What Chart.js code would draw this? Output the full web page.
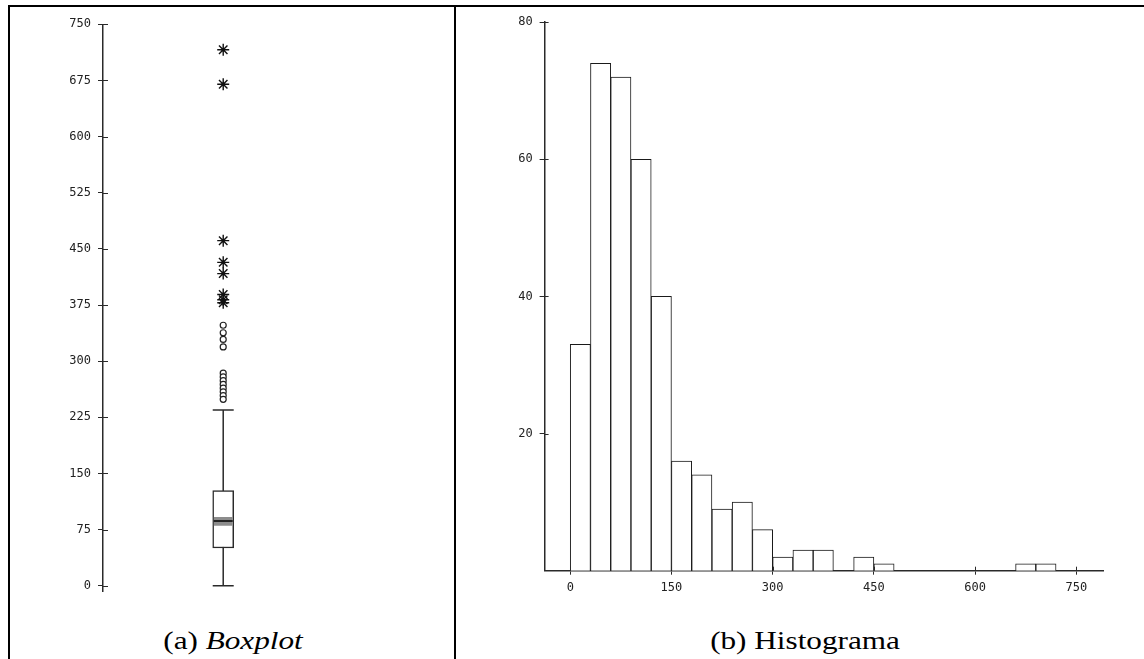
<!DOCTYPE html>
<html>
<head>
<meta charset="utf-8">
<script src="https://cdn.jsdelivr.net/npm/chart.js@4.4.1/dist/chart.umd.min.js"></script>
<style>
  html, body { margin: 0; padding: 0; background: #fff; }
  body { width: 1144px; height: 659px; position: relative; overflow: hidden; }
  .rule { position: absolute; background: #000; }
  #boxWrap { position: absolute; left: 10px; top: 8px; width: 444px; height: 600px; }
  #histWrap { position: absolute; left: 457px; top: 8px; width: 687px; height: 600px; }
  .cap {
    position: absolute; top: 626px; width: 400px; line-height: 30px;
    font-family: "Liberation Serif", "Times New Roman", serif; font-size: 26px;
    text-align: center; color: #000; transform: scaleX(1.2);
  }
</style>
</head>
<body>
<div class="rule" style="left:8px;top:5px;width:1136px;height:2px;"></div>
<div class="rule" style="left:8px;top:5px;width:2px;height:654px;"></div>
<div class="rule" style="left:454px;top:5px;width:2px;height:654px;"></div>

<div id="boxWrap"><canvas id="boxChart" width="444" height="600"></canvas></div>
<div id="histWrap"><canvas id="histChart" width="687" height="600"></canvas></div>

<div class="cap" style="left:33px;">(a) <i>Boxplot</i></div>
<div class="cap" style="left:605px;">(b) Histograma</div>

<script>
// boxplot: lower whisker, Q1, median, Q3, upper whisker
var boxFiveNum = [0, 50.4, 86.4, 127, 234.7];
var medianBand = [80.7, 91.4];
var outliersMild = [348, 338, 329, 319, 284, 279, 274, 269, 264, 259, 254, 249];
var outliersExtreme = [716, 670, 461, 432, 417, 389, 382, 378];
var boxYTicks = [0, 75, 150, 225, 300, 375, 450, 525, 600, 675, 750];

// histogram, bins of width 30
var binWidth = 30;
var binStart = [0, 30, 60, 90, 120, 150, 180, 210, 240, 270, 300, 330, 360, 390,
                420, 450, 480, 510, 540, 570, 600, 630, 660, 690];
var binCounts = [33, 74, 72, 60, 40, 16, 14, 9, 10, 6, 2, 3, 3, 0,
                 2, 1, 0, 0, 0, 0, 0, 0, 1, 1];
var histXTicks = [0, 150, 300, 450, 600, 750];
var histYTicks = [20, 40, 60, 80];

Chart.defaults.font.family = "'DejaVu Sans Mono', monospace";
Chart.defaults.font.size = 12;
Chart.defaults.color = '#222';

var ink = '#2a2a2a';

// draws the half of each tick mark that sits inside the plot area
var crossTicks = {
  id: 'crossTicks',
  afterDatasetsDraw: function (chart, args, opts) {
    var ctx = chart.ctx, area = chart.chartArea;
    ctx.save();
    ctx.strokeStyle = ink;
    ctx.lineWidth = 1;
    ctx.beginPath();
    if (opts.y) {
      chart.scales.y.ticks.forEach(function (t) {
        var py = Math.round(chart.scales.y.getPixelForValue(t.value)) + 0.5;
        ctx.moveTo(area.left, py);
        ctx.lineTo(area.left + opts.y, py);
      });
    }
    if (opts.x) {
      chart.scales.x.ticks.forEach(function (t) {
        var px = Math.round(chart.scales.x.getPixelForValue(t.value)) + 0.5;
        ctx.moveTo(px, area.bottom);
        ctx.lineTo(px, area.bottom - opts.x);
      });
    }
    ctx.stroke();
    ctx.restore();
  }
};

function fixedTicks(list) {
  return function (scale) {
    scale.ticks = list.map(function (v) { return { value: v }; });
  };
}

// ---- boxplot ----
var bx = 1;
new Chart(document.getElementById('boxChart'), {
  type: 'scatter',
  data: {
    datasets: [
      {
        type: 'line',
        data: [{ x: bx, y: boxFiveNum[0] }, { x: bx, y: boxFiveNum[4] }],
        borderColor: ink, borderWidth: 1.5, pointRadius: 0, order: 5
      },
      {
        type: 'bar', grouped: false,
        data: [{ x: bx, y: [boxFiveNum[1], boxFiveNum[3]] }],
        backgroundColor: '#fff', borderColor: ink, borderWidth: 1.5,
        borderSkipped: false, barThickness: 21, order: 4
      },
      {
        type: 'bar', grouped: false,
        data: [{ x: bx, y: medianBand }],
        backgroundColor: '#8c8c8c', borderWidth: 0, barThickness: 18, order: 3
      },
      {
        data: [{ x: bx, y: boxFiveNum[2] }],
        pointStyle: 'line', pointRadius: 9.5, borderColor: '#222', borderWidth: 2, order: 2
      },
      {
        data: [{ x: bx, y: boxFiveNum[0] }, { x: bx, y: boxFiveNum[4] }],
        pointStyle: 'line', pointRadius: 10.5, borderColor: ink, borderWidth: 1.5, order: 2
      },
      {
        data: outliersMild.map(function (v) { return { x: bx, y: v }; }),
        pointStyle: 'circle', pointRadius: 3, borderColor: '#222', borderWidth: 1.2,
        backgroundColor: '#fff', order: 1
      },
      {
        data: outliersExtreme.map(function (v) { return { x: bx, y: v }; }),
        pointStyle: 'star', pointRadius: 6, borderColor: '#111', borderWidth: 1.4, order: 1
      }
    ]
  },
  options: {
    responsive: false,
    animation: false,
    events: [],
    layout: { padding: { left: 33, right: 0, top: 16.3, bottom: 17 } },
    plugins: { legend: { display: false }, tooltip: { enabled: false }, crossTicks: { y: 5 } },
    scales: {
      x: { type: 'linear', display: false, offset: false, min: 0, max: 2.82 },
      y: {
        type: 'linear', min: -7, max: 750,
        afterBuildTicks: fixedTicks(boxYTicks),
        afterFit: function (s) { s.width = 60; },
        grid: { drawOnChartArea: false, drawTicks: true, tickLength: 5, color: ink, lineWidth: 1 },
        border: { display: true, color: ink, width: 1.5 },
        ticks: { padding: 7, color: '#222', autoSkip: false }
      }
    }
  },
  plugins: [crossTicks]
});

// ---- histogram ----
var histData = [];
binStart.forEach(function (s, i) {
  if (binCounts[i] > 0) histData.push({ x: s + binWidth / 2, y: binCounts[i] });
});

new Chart(document.getElementById('histChart'), {
  type: 'bar',
  data: {
    datasets: [{
      data: histData,
      backgroundColor: '#fff', borderColor: '#1a1a1a', borderWidth: 1,
      barPercentage: 1, categoryPercentage: 1
    }]
  },
  options: {
    responsive: false,
    animation: false,
    events: [],
    layout: { padding: { left: 37.6, right: 40.7, top: 13.7, bottom: 7.3 } },
    plugins: { legend: { display: false }, tooltip: { enabled: false }, crossTicks: { x: 4, y: 4 } },
    scales: {
      x: {
        type: 'linear', min: -38, max: 790, offset: false,
        afterBuildTicks: fixedTicks(histXTicks),
        afterFit: function (s) { s.height = 30; },
        grid: { offset: false, drawOnChartArea: false, drawTicks: true, tickLength: 4, color: ink, lineWidth: 1 },
        border: { display: true, color: ink, width: 1.5 },
        ticks: { padding: 6, color: '#222', autoSkip: false, maxRotation: 0 }
      },
      y: {
        type: 'linear', min: 0, max: 80,
        afterBuildTicks: fixedTicks(histYTicks),
        afterFit: function (s) { s.width = 50; },
        grid: { drawOnChartArea: false, drawTicks: true, tickLength: 5, color: ink, lineWidth: 1 },
        border: { display: true, color: ink, width: 1.5 },
        ticks: { padding: 7, color: '#222', autoSkip: false }
      }
    }
  },
  plugins: [crossTicks]
});
</script>
</body>
</html>
